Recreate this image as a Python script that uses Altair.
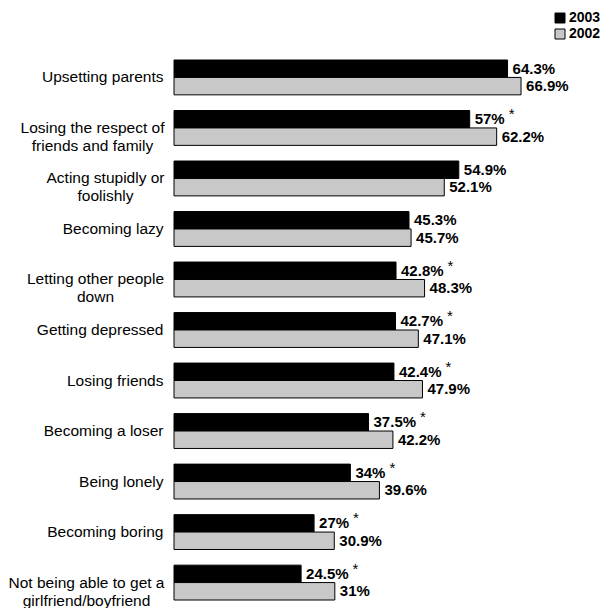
import altair as alt
import pandas as pd

categories = [
    "Upsetting parents",
    "Losing the respect of|friends and family",
    "Acting stupidly or|foolishly",
    "Becoming lazy",
    "Letting other people|down",
    "Getting depressed",
    "Losing friends",
    "Becoming a loser",
    "Being lonely",
    "Becoming boring",
    "Not being able to get a|girlfriend/boyfriend",
]
years = ["2003", "2002"]
values_2003 = [64.3, 57, 54.9, 45.3, 42.8, 42.7, 42.4, 37.5, 34, 27, 24.5]
values_2002 = [66.9, 62.2, 52.1, 45.7, 48.3, 47.1, 47.9, 42.2, 39.6, 30.9, 31]
significant_2003 = [False, True, False, False, True, True, True, True, True, True, True]

rows = []
for c, v3, v2, s in zip(categories, values_2003, values_2002, significant_2003):
    rows.append({"category": c, "year": "2003", "value": v3, "label": f"{v3:g}%", "star": "*" if s else ""})
    rows.append({"category": c, "year": "2002", "value": v2, "label": f"{v2:g}%", "star": ""})
df = pd.DataFrame(rows)

W = 415
H = 540
XMAX = 80
FONT = "Liberation Sans"

x_scale = alt.Scale(domain=[0, XMAX], nice=False, zero=True)

label_align = {
    "condition": {"test": "indexof(datum.value, '|') >= 0", "value": "center"},
    "value": "right",
}
label_padding = {
    "condition": [
        {"test": "datum.value == 'Losing the respect of|friends and family'", "value": 82},
        {"test": "datum.value == 'Acting stupidly or|foolishly'", "value": 69},
        {"test": "datum.value == 'Letting other people|down'", "value": 79},
        {"test": "datum.value == 'Not being able to get a|girlfriend/boyfriend'", "value": 88},
    ],
    "value": 11,
}

y_axis = alt.Axis(
    title=None,
    domain=False,
    ticks=False,
    labelExpr="split(datum.label, '|')",
    labelFont=FONT,
    labelFontSize=15.5,
    labelColor="black",
    labelLimit=400,
    labelLineHeight=18,
    labelBaseline="middle",
    labelAlign=label_align,
    labelPadding=label_padding,
)

y_enc = alt.Y(
    "category:N",
    sort=categories,
    scale=alt.Scale(paddingInner=0.31, paddingOuter=0),
    axis=y_axis,
)
yoff = alt.YOffset("year:N", sort=years, scale=alt.Scale(domain=years, paddingInner=0, paddingOuter=0))

color = alt.Color(
    "year:N",
    sort=years,
    scale=alt.Scale(domain=years, range=["#000000", "#c8c8c8"]),
    legend=alt.Legend(
        title=None,
        orient="none",
        legendX=379,
        legendY=-49,
        symbolType="square",
        symbolSize=100,
        symbolStrokeColor="black",
        symbolStrokeWidth=1,
        labelFont=FONT,
        labelFontSize=14,
        labelFontWeight="bold",
        labelColor="black",
        labelOffset=2,
        rowPadding=2,
        padding=0,
    ),
)

bars = alt.Chart(df).mark_bar(stroke="black", strokeWidth=1).encode(
    x=alt.X("value:Q", scale=x_scale, axis=None),
    y=y_enc,
    yOffset=yoff,
    color=color,
)

labels = alt.Chart(df).mark_text(
    align="left", baseline="middle", dx=5, fontSize=15, fontWeight="bold", font=FONT, color="black"
).encode(
    x=alt.X("value:Q", scale=x_scale, axis=None),
    y=y_enc,
    yOffset=yoff,
    text="label:N",
)

px_per_unit = W / XMAX
stars = (
    alt.Chart(df)
    .transform_filter("datum.star != ''")
    .transform_calculate(dot="indexof(datum.label, '.') >= 0 ? 1 : 0")
    .transform_calculate(
        tw="(length(datum.label) - 1 - datum.dot) * 8.34 + datum.dot * 4.17 + 13.34"
    )
    .transform_calculate(xs=f"datum.value + (datum.tw + 4) / {px_per_unit}")
    .mark_text(align="left", baseline="middle", dx=5, dy=-5, fontSize=15, font=FONT, color="black")
    .encode(
        x=alt.X("xs:Q", scale=x_scale, axis=None),
        y=y_enc,
        yOffset=yoff,
        text="star:N",
    )
)

chart = (
    alt.layer(bars, labels, stars)
    .properties(width=W, height=H, padding={"top": 3, "left": 0, "right": 0, "bottom": 0})
    .configure_view(stroke=None)
)

chart.save("out.html", embed_options={"renderer": "svg", "actions": False})
